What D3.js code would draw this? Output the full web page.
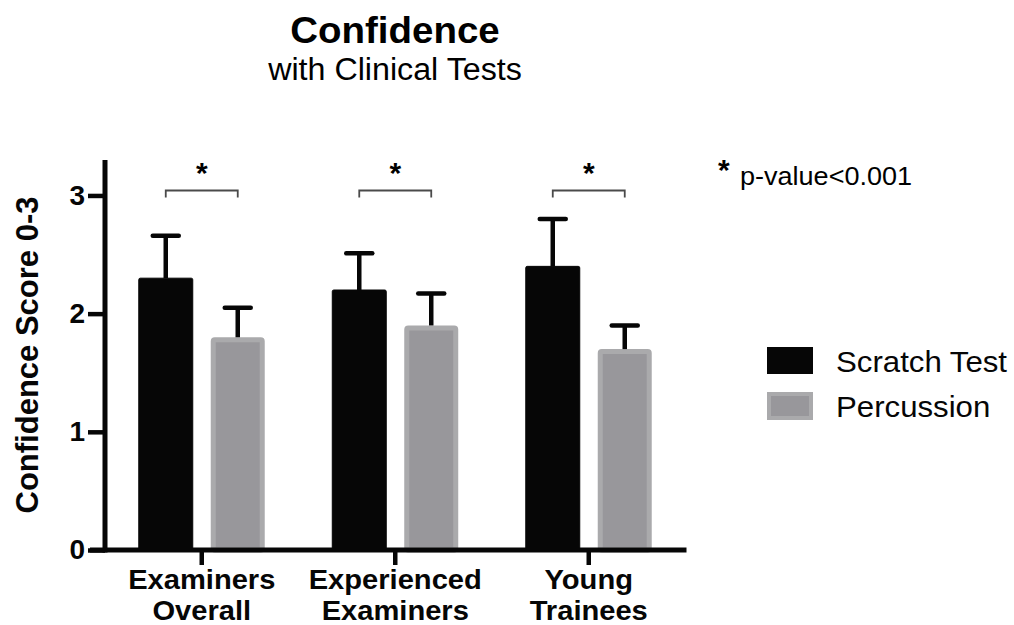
<!DOCTYPE html>
<html>
<head>
<meta charset="utf-8">
<script src="https://cdnjs.cloudflare.com/ajax/libs/d3/7.8.5/d3.min.js"></script>
<style>
  html, body { margin: 0; padding: 0; background: #fff; }
  svg { display: block; font-family: "Liberation Sans", Arial, Helvetica, sans-serif; }
</style>
</head>
<body>
<svg id="chart" width="1014" height="625"></svg>
<script>
// Groups and series
const categories = [["Examiners", "Overall"], ["Experienced", "Examiners"], ["Young", "Trainees"]];
const seriesNames = ["Scratch Test", "Percussion"];
const scratchMeans = [2.3, 2.2, 2.4];
const scratchSD = [0.36, 0.31, 0.40];
const percussionMeans = [1.8, 1.9, 1.7];
const percussionSD = [0.25, 0.27, 0.20];
const yTicks = [0, 1, 2, 3];
const significance = ["*", "*", "*"];

const colors = {
  "Scratch Test": { fill: "#060606", stroke: "#060606" },
  "Percussion": { fill: "#98979b", stroke: "#aaaaac" }
};

const svg = d3.select("#chart");

const rows = categories.map((c, i) => ({
  key: c.join(" "),
  label: c,
  values: [
    { series: "Scratch Test", mean: scratchMeans[i], sd: scratchSD[i] },
    { series: "Percussion", mean: percussionMeans[i], sd: percussionSD[i] }
  ],
  sig: significance[i]
}));

const plotLeft = 105, plotRight = 685.5, plotBottom = 550, plotTop = 160;

const y = d3.scaleLinear().domain([0, 3.3]).range([plotBottom, plotTop]);
const x0 = d3.scaleBand().domain(rows.map(r => r.key))
  .range([plotLeft, plotRight]).paddingInner(0.349).paddingOuter(0.1745);
const x1 = d3.scaleBand().domain(seriesNames)
  .range([0, x0.bandwidth()]).paddingInner(0.25).paddingOuter(0);

// Titles (slightly widened glyphs)
svg.append("text").attr("transform", "translate(395,43) scale(1.04,1)").attr("text-anchor", "middle")
  .attr("font-size", 37).attr("font-weight", "bold").text("Confidence");
svg.append("text").attr("transform", "translate(395,80) scale(1.04,1)").attr("text-anchor", "middle")
  .attr("font-size", 31).text("with Clinical Tests");

// Bars
const groups = svg.append("g").selectAll("g").data(rows).join("g")
  .attr("transform", d => `translate(${x0(d.key)},0)`);

groups.selectAll("rect.bar").data(d => d.values).join("rect")
  .attr("class", "bar")
  .attr("x", d => x1(d.series) + (d.series === "Percussion" ? 2.5 : 0))
  .attr("y", d => y(d.mean) + (d.series === "Percussion" ? 2.5 : 0))
  .attr("width", d => x1.bandwidth() - (d.series === "Percussion" ? 5 : 0))
  .attr("height", d => y(0) - y(d.mean) - (d.series === "Percussion" ? 2.5 : 0))
  .attr("rx", 1.5)
  .attr("fill", d => colors[d.series].fill)
  .attr("stroke", d => colors[d.series].stroke)
  .attr("stroke-width", d => d.series === "Percussion" ? 5 : 1);

// Error bars (upper only)
const capHalf = 13;
groups.selectAll("line.err").data(d => d.values).join("line")
  .attr("class", "err")
  .attr("x1", d => x1(d.series) + x1.bandwidth() / 2)
  .attr("x2", d => x1(d.series) + x1.bandwidth() / 2)
  .attr("y1", d => y(d.mean))
  .attr("y2", d => y(d.mean + d.sd))
  .attr("stroke", "#060606").attr("stroke-width", 4.5);
groups.selectAll("line.cap").data(d => d.values).join("line")
  .attr("class", "cap")
  .attr("x1", d => x1(d.series) + x1.bandwidth() / 2 - capHalf)
  .attr("x2", d => x1(d.series) + x1.bandwidth() / 2 + capHalf)
  .attr("y1", d => y(d.mean + d.sd))
  .attr("y2", d => y(d.mean + d.sd))
  .attr("stroke", "#060606").attr("stroke-width", 4.5).attr("stroke-linecap", "round");

// Significance brackets
const bracketY = 190.5;
groups.append("path")
  .attr("d", () => {
    const a = x1("Scratch Test") + x1.bandwidth() / 2;
    const b = x1("Percussion") + x1.bandwidth() / 2;
    return `M${a},${bracketY + 7}V${bracketY}H${b}V${bracketY + 7}`;
  })
  .attr("fill", "none").attr("stroke", "#4a4a4a").attr("stroke-width", 1.8);
groups.append("text")
  .attr("x", x0.bandwidth() / 2).attr("y", 183)
  .attr("text-anchor", "middle").attr("font-size", 30).attr("font-weight", "bold")
  .text(d => d.sig);

// Y axis
const yAxis = d3.axisLeft(y).tickValues(yTicks).tickFormat(d3.format("d"))
  .tickSize(17).tickPadding(3);
const gy = svg.append("g").attr("transform", `translate(${plotLeft},0)`).call(yAxis);
gy.select(".domain").attr("d", `M0,${plotTop}V${plotBottom + 2.5}`)
  .attr("stroke", "#060606").attr("stroke-width", 5);
gy.selectAll(".tick line").attr("stroke", "#060606").attr("stroke-width", 4.5);
gy.selectAll(".tick text").attr("font-size", 28).attr("font-weight", "bold")
  .attr("fill", "#060606").attr("font-family", "Liberation Sans, Arial, sans-serif");

// X axis
const xAxis = d3.axisBottom(x0).tickSize(15).tickFormat("");
const gx = svg.append("g").attr("transform", `translate(0,${plotBottom})`).call(xAxis);
gx.select(".domain").attr("d", `M${plotLeft - 15},0H${plotRight + 1}`)
  .attr("stroke", "#060606").attr("stroke-width", 5);
gx.selectAll(".tick line").attr("stroke", "#060606").attr("stroke-width", 4.5);

// Category labels
const labels = svg.append("g").selectAll("text").data(rows).join("text")
  .attr("transform", d => `translate(${x0(d.key) + x0.bandwidth() / 2},0) scale(1.04,1)`)
  .attr("text-anchor", "middle").attr("font-size", 28).attr("font-weight", "bold")
  .attr("fill", "#060606");
labels.selectAll("tspan").data(d => d.label).join("tspan")
  .attr("x", 0)
  .attr("y", (d, i) => 589 + i * 31)
  .text(d => d);

// Y axis title
svg.append("text")
  .attr("transform", `translate(38,${(plotTop + plotBottom) / 2}) rotate(-90)`)
  .attr("text-anchor", "middle").attr("font-size", 31).attr("font-weight", "bold")
  .attr("fill", "#060606")
  .text("Confidence Score 0-3");

// p-value note
svg.append("text").attr("x", 718).attr("y", 180).attr("font-size", 30).attr("font-weight", "bold").text("*");
svg.append("text").attr("transform", "translate(740,185) scale(1.04,1)").attr("font-size", 26).text("p-value<0.001");

// Legend
const legend = svg.append("g").selectAll("g").data(seriesNames).join("g")
  .attr("transform", (d, i) => `translate(767,${347 + i * 45})`);
legend.append("rect")
  .attr("x", d => d === "Percussion" ? 2 : 0)
  .attr("y", d => d === "Percussion" ? 2 : 0)
  .attr("width", d => d === "Percussion" ? 42 : 46)
  .attr("height", d => d === "Percussion" ? 24 : 27)
  .attr("fill", d => colors[d].fill)
  .attr("stroke", d => colors[d].stroke)
  .attr("stroke-width", d => d === "Percussion" ? 4 : 0);
legend.append("text").attr("transform", "translate(69,25) scale(1.04,1)")
  .attr("font-size", 30).attr("fill", "#060606").text(d => d);
</script>
</body>
</html>
